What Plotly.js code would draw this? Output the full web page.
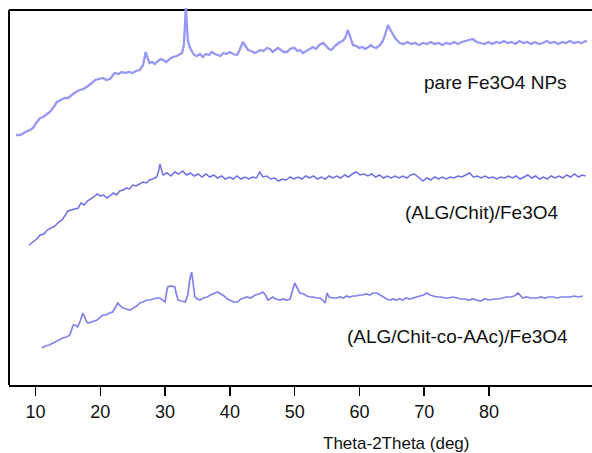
<!DOCTYPE html>
<html>
<head>
<meta charset="utf-8">
<script src="https://cdn.plot.ly/plotly-3.0.1.min.js"></script>
<style>html,body{margin:0;padding:0;background:#fff;}#chart{width:592px;height:453px;}</style>
</head>
<body>
<div id="chart"></div>
<script>
// 2-theta (deg) and intensity (arbitrary units, offset stacked)
const thetaFe3O4 = [7.0,7.6,8.2,8.7,9.2,9.6,10.1,10.7,11.2,11.7,12.2,12.8,13.3,13.9,14.5,15.0,15.6,16.2,16.8,17.4,18.1,18.6,19.2,19.8,20.4,20.9,21.5,22.2,22.8,23.3,23.8,24.4,25.0,25.5,26.1,26.6,26.8,27.0,27.3,27.6,28.0,28.4,28.9,29.3,29.7,30.2,30.7,31.2,31.8,32.3,32.6,32.9,33.2,33.5,33.8,34.2,34.5,34.9,35.4,35.8,36.3,36.8,37.2,37.7,38.1,38.5,39.0,39.5,40.0,40.5,41.1,41.5,42.0,42.4,42.8,43.3,43.8,44.2,44.7,45.2,45.7,46.2,46.6,47.0,47.4,47.9,48.3,48.8,49.3,49.7,50.0,50.4,50.8,51.3,51.8,52.3,52.8,53.3,53.8,54.4,54.9,55.3,55.7,56.2,56.6,57.0,57.4,57.8,58.2,58.5,58.7,59.0,59.5,60.0,60.4,60.9,61.4,61.8,62.1,62.6,63.2,63.6,63.9,64.2,64.4,64.7,65.0,65.5,66.2,66.8,67.4,68.0,68.6,69.2,69.8,70.4,71.0,71.6,72.2,72.8,73.4,74.0,74.6,75.2,75.8,76.4,77.0,77.5,78.1,78.7,79.3,79.9,80.5,81.1,81.7,82.3,82.9,83.5,84.1,84.7,85.3,85.9,86.5,87.1,87.7,88.3,88.9,89.5,90.1,90.7,91.3,91.9,92.5,93.1,93.7,94.3,94.9,95.1];
const intFe3O4   = [250,250,252,254,255,257,262,267,268,271,273,278,283,285,287,287,290,293,295,296,299,302,305,306,307,305,306,312,311,313,312,313,312,314,315,320,328,333,327,322,323,321,324,326,325,323,326,328,329,331,332,340,377,345,338,333,330,329,331,328,331,330,333,331,330,329,332,331,333,331,330,335,343,339,335,334,332,333,335,334,337,336,333,335,337,335,333,333,336,337,337,334,335,332,334,336,338,336,340,342,339,336,335,339,341,343,344,347,355,349,345,340,339,337,338,336,338,340,338,337,340,344,349,357,360,356,352,347,342,341,343,341,342,340,342,341,343,341,342,340,342,341,343,341,343,344,345,346,343,342,341,343,341,343,342,344,342,343,341,344,342,343,341,343,341,342,344,342,343,341,343,342,344,342,343,342,344,343];

const thetaAlgChit = [9.0,9.6,10.2,10.7,11.3,11.8,12.4,13.0,13.6,14.1,14.6,15.0,15.5,16.1,16.6,17.0,17.5,18.0,18.5,19.0,19.5,20.0,20.5,21.0,21.5,22.0,22.5,23.0,23.5,24.0,24.5,25.0,25.5,26.0,26.6,27.1,27.6,28.1,28.7,29.0,29.2,29.4,29.7,30.3,30.9,31.5,32.1,32.7,33.3,33.9,34.5,35.1,35.7,36.3,36.9,37.5,38.1,38.7,39.3,39.9,40.5,41.1,41.7,42.3,42.9,43.5,44.1,44.6,45.1,45.7,46.3,46.9,47.5,48.1,48.7,49.3,49.9,50.5,51.1,51.7,52.3,52.9,53.5,54.1,54.7,55.3,55.9,56.5,57.1,57.7,58.3,58.9,59.5,60.1,60.7,61.3,61.9,62.5,63.1,63.7,64.3,64.9,65.5,66.1,66.7,67.3,67.9,68.5,69.1,69.8,70.4,71.0,71.6,72.2,72.8,73.4,74.0,74.6,75.2,75.8,76.4,77.0,77.6,78.2,78.8,79.4,80.0,80.6,81.2,81.8,82.4,83.0,83.6,84.2,84.8,85.4,86.0,86.6,87.2,87.8,88.4,89.0,89.6,90.2,90.8,91.4,92.0,92.6,93.2,93.8,94.4,94.9];
const intAlgChit   = [140,143,146,150,151,155,157,159,163,165,170,174,175,176,177,182,180,184,186,188,191,189,190,187,189,192,190,194,195,197,196,200,199,201,203,202,205,206,208,214,221,216,210,212,209,213,211,214,210,212,209,211,208,211,208,210,207,209,206,208,206,209,206,208,206,208,207,213,208,209,206,207,204,206,205,208,206,208,206,209,207,209,206,208,206,209,207,209,207,210,208,211,213,210,211,209,211,208,210,207,209,207,209,207,209,207,210,211,208,204,207,205,208,206,208,206,208,207,209,208,210,212,208,209,207,209,207,208,206,208,207,209,207,209,206,208,210,207,209,206,208,206,209,207,209,207,210,208,211,208,210,209];

const thetaAlgChitAAc = [11.0,11.5,12.1,12.7,13.2,13.7,14.2,14.8,15.3,15.6,15.8,16.1,16.5,16.9,17.3,17.6,17.8,18.1,18.6,19.0,19.5,20.0,20.4,20.9,21.4,21.9,22.3,22.7,23.1,23.5,24.0,24.6,25.1,25.6,26.1,26.6,27.2,27.7,28.2,28.7,29.2,29.6,30.0,30.2,30.4,30.9,31.5,31.7,32.0,32.5,33.1,33.5,33.8,34.1,34.4,34.6,35.0,35.4,35.9,36.5,37.0,37.6,38.1,38.6,39.1,39.6,40.0,40.6,41.2,41.7,42.2,42.6,43.2,43.9,44.5,45.1,45.5,45.9,46.2,46.6,47.1,47.7,48.2,48.7,49.3,49.6,50.0,50.4,50.8,51.4,51.9,52.4,52.9,53.4,53.9,54.3,54.7,55.0,55.3,55.9,56.5,57.0,57.5,58.0,58.5,59.0,59.5,60.0,60.5,61.1,61.6,62.1,62.7,63.2,63.7,64.2,64.7,65.2,65.7,66.2,66.7,67.2,67.7,68.3,68.8,69.3,69.9,70.4,70.9,71.4,72.0,72.6,73.2,73.8,74.4,75.1,75.7,76.3,76.9,77.5,78.1,78.7,79.3,80.1,80.7,81.4,82.1,82.7,83.3,83.9,84.5,84.9,85.2,85.8,86.4,87.0,87.4,88.0,88.6,89.2,89.9,90.5,91.2,91.8,92.5,93.1,93.8,94.5];
const intAlgChitAAc   = [37,39,40,42,44,45,47,48,50,56,60,60,58,64,72,68,64,62,63,64,65,68,70,70,72,73,78,82,79,77,76,75,77,79,82,83,85,85,86,87,87,85,83,92,98,99,98,92,85,84,83,90,105,113,100,88,86,85,87,88,90,92,93,91,89,86,85,83,83,86,87,88,87,90,91,93,90,85,86,88,86,85,86,85,86,92,102,97,92,91,89,88,88,87,87,85,82,92,88,87,87,88,87,89,88,89,89,90,90,91,90,92,92,90,88,86,85,86,85,86,85,87,86,87,88,89,90,92,90,89,88,88,87,87,88,87,86,86,85,86,85,84,86,85,86,86,87,88,88,89,92,89,87,88,87,87,87,88,87,88,88,87,88,88,88,89,88,89];

const sampleLabels = ["pare Fe3O4 NPs", "(ALG/Chit)/Fe3O4", "(ALG/Chit-co-AAc)/Fe3O4"];
const xTickVals = [10,20,30,40,50,60,70,80];
const xTitle = "Theta-2Theta (deg)";

const traces = [
  {x: thetaFe3O4, y: intFe3O4, mode: 'lines', line: {color: '#9797f6', width: 2.3}, hoverinfo: 'skip'},
  {x: thetaAlgChit, y: intAlgChit, mode: 'lines', line: {color: '#6e6ee9', width: 1.5}, hoverinfo: 'skip'},
  {x: thetaAlgChitAAc, y: intAlgChitAAc, mode: 'lines', line: {color: '#8282ef', width: 1.7}, hoverinfo: 'skip'}
];

const labelFont = {family: 'Liberation Sans, Arial, sans-serif', size: 19, color: '#111'};
const tickFont = {family: 'Liberation Sans, Arial, sans-serif', size: 18, color: '#111'};
const titleFont = {family: 'Liberation Sans, Arial, sans-serif', size: 17, color: '#111'};

const layout = {
  width: 592, height: 453,
  margin: {l: 9, r: 0, t: 6, b: 68},
  paper_bgcolor: '#fff', plot_bgcolor: '#fff',
  showlegend: false,
  xaxis: {
    range: [5.9, 95.9], tickvals: xTickVals, ticktext: xTickVals.map(String),
    showline: true, linecolor: '#000', linewidth: 2, mirror: false,
    ticks: 'outside', ticklen: 9, tickwidth: 1.5, tickcolor: '#000',
    showgrid: false, zeroline: false, tickfont: tickFont
  },
  yaxis: {
    range: [0, 379], showline: false,
    showticklabels: false, ticks: '', showgrid: false, zeroline: false
  },
  shapes: [
    {type: 'line', xref: 'paper', yref: 'y', x0: 0, x1: 1, y0: 375, y1: 375, line: {color: '#000', width: 2}, layer: 'below'},
    {type: 'line', xref: 'paper', yref: 'y', x0: 0, x1: 0, y0: 0, y1: 375, line: {color: '#000', width: 2}, layer: 'below'}
  ],
  annotations: [
    {x: 69.6, y: 303, xref: 'x', yref: 'y', text: sampleLabels[0], showarrow: false, xanchor: 'left', yanchor: 'middle', font: labelFont},
    {x: 66.7, y: 173, xref: 'x', yref: 'y', text: sampleLabels[1], showarrow: false, xanchor: 'left', yanchor: 'middle', font: labelFont},
    {x: 57.8, y: 49, xref: 'x', yref: 'y', text: sampleLabels[2], showarrow: false, xanchor: 'left', yanchor: 'middle', font: labelFont},
    {x: 65.6, y: -0.155, xref: 'x', yref: 'paper', text: xTitle, showarrow: false, xanchor: 'center', yanchor: 'middle', font: titleFont}
  ]
};

Plotly.newPlot('chart', traces, layout, {staticPlot: true, displayModeBar: false});
</script>
</body>
</html>
